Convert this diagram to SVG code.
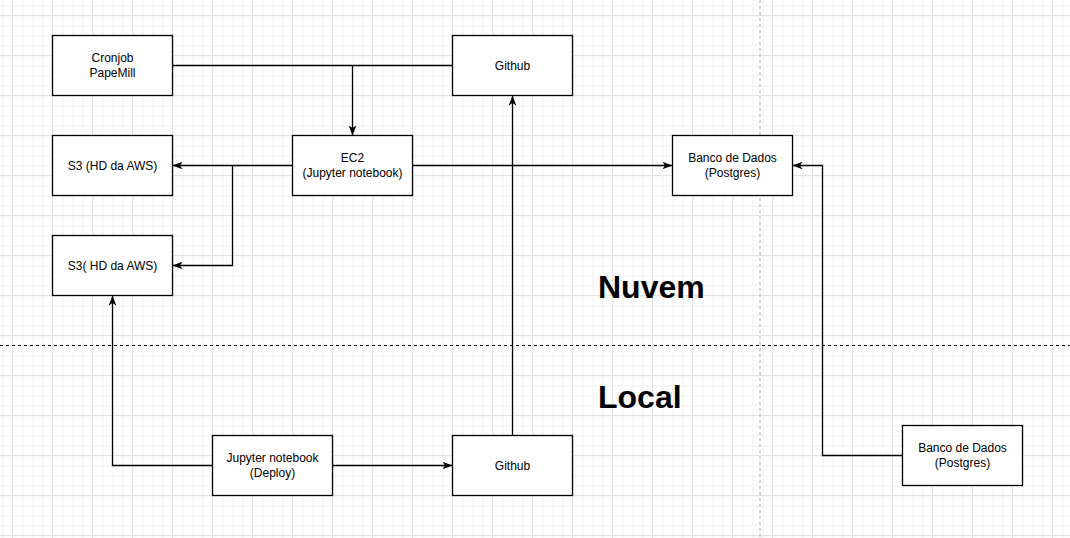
<svg xmlns="http://www.w3.org/2000/svg" width="1070" height="538" viewBox="0 0 1070 538">
<defs>
<pattern id="minor" width="10" height="10" patternUnits="userSpaceOnUse" x="2.5" y="5.5">
<path d="M0 0.5H10M0.5 0V10" fill="none" stroke="#f1f1f1" stroke-width="1"/>
</pattern>
<pattern id="major" width="40" height="40" patternUnits="userSpaceOnUse" x="12" y="15">
<path d="M0 0.5H40M0.5 0V40" fill="none" stroke="#e3e3e3" stroke-width="1"/>
</pattern>
<marker id="arr" viewBox="0 0 10 10" refX="10" refY="5" markerWidth="10" markerHeight="10" markerUnits="userSpaceOnUse" orient="auto">
<path d="M0 1.2L10 5L0 8.8L2.5 5Z" fill="#000"/>
</marker>
<style>
.box{fill:#fff;stroke:#000;stroke-width:1.3}
.lbl{font-family:"Liberation Sans",Arial,sans-serif;font-size:12px;fill:#000;text-anchor:middle}
.big{font-family:"Liberation Sans",Arial,sans-serif;font-size:32px;font-weight:bold;fill:#000}
.edge{fill:none;stroke:#000;stroke-width:1.3}
</style>
</defs>
<rect width="1070" height="538" fill="#fff"/>
<rect width="1070" height="538" fill="url(#minor)"/>
<rect width="1070" height="538" fill="url(#major)"/>
<line x1="760" y1="0" x2="760" y2="538" stroke="#aaa" stroke-width="1" stroke-dasharray="3 3"/>
<line x1="0" y1="345.5" x2="1070" y2="345.5" stroke="#000" stroke-width="1" stroke-dasharray="3 3"/>
<text class="big" x="598" y="298">Nuvem</text>
<text class="big" x="598" y="408">Local</text>
<g id="connectors">
<path class="edge" d="M172.5 65.5H452.5"/>
<path class="edge" d="M352.5 65.5V135.5" marker-end="url(#arr)"/>
<path class="edge" d="M292.5 165.5H172.5" marker-end="url(#arr)"/>
<path class="edge" d="M232.5 165.5V265.5H172.5" marker-end="url(#arr)"/>
<path class="edge" d="M412.5 165.5H672.5" marker-end="url(#arr)"/>
<path class="edge" d="M902.5 455.5H822.5V165.5H792.5" marker-end="url(#arr)"/>
<path class="edge" d="M212.5 465.5H112.5V295.5" marker-end="url(#arr)"/>
<path class="edge" d="M332.5 465.5H452.5" marker-end="url(#arr)"/>
<path class="edge" d="M512.5 435.5V95.5" marker-end="url(#arr)"/>
</g>
<g id="cronjob">
<rect class="box" x="52.5" y="35.5" width="120" height="60"/>
<text class="lbl" x="112.5" y="62">Cronjob</text>
<text class="lbl" x="112.5" y="76.5">PapeMill</text>
</g>
<g id="github-cloud">
<rect class="box" x="452.5" y="35.5" width="120" height="60"/>
<text class="lbl" x="512.5" y="69.5">Github</text>
</g>
<g id="ec2">
<rect class="box" x="292.5" y="135.5" width="120" height="60"/>
<text class="lbl" x="352.5" y="162">EC2</text>
<text class="lbl" x="352.5" y="176.5">(Jupyter notebook)</text>
</g>
<g id="s3-a">
<rect class="box" x="52.5" y="135.5" width="120" height="60"/>
<text class="lbl" x="112.5" y="169.5">S3 (HD da AWS)</text>
</g>
<g id="s3-b">
<rect class="box" x="52.5" y="235.5" width="120" height="60"/>
<text class="lbl" x="112.5" y="269.5">S3( HD da AWS)</text>
</g>
<g id="db-cloud">
<rect class="box" x="672.5" y="135.5" width="120" height="60"/>
<text class="lbl" x="732.5" y="162">Banco de Dados</text>
<text class="lbl" x="732.5" y="176.5">(Postgres)</text>
</g>
<g id="jupyter-local">
<rect class="box" x="212.5" y="435.5" width="120" height="60"/>
<text class="lbl" x="272.5" y="462">Jupyter notebook</text>
<text class="lbl" x="272.5" y="476.5">(Deploy)</text>
</g>
<g id="github-local">
<rect class="box" x="452.5" y="435.5" width="120" height="60"/>
<text class="lbl" x="512.5" y="469.5">Github</text>
</g>
<g id="db-local">
<rect class="box" x="902.5" y="425.5" width="120" height="60"/>
<text class="lbl" x="962.5" y="452">Banco de Dados</text>
<text class="lbl" x="962.5" y="466.5">(Postgres)</text>
</g>
</svg>
